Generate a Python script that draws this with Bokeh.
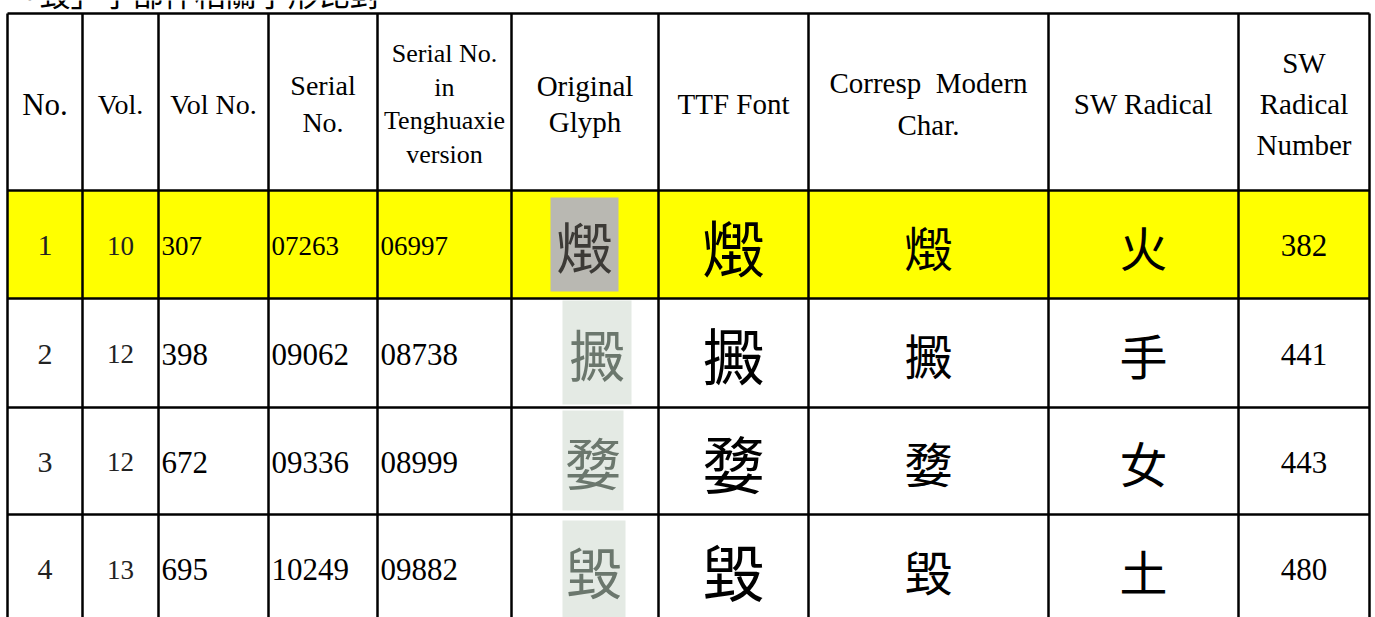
from bokeh.plotting import figure
from bokeh.embed import file_html
from bokeh.resources import INLINE
from bokeh.core.properties import value
from bokeh.models import ColumnDataSource, Range1d

# ---------------- data ----------------
title = "「毀」字部件相關字形比對"
headers = ["No.", "Vol.", "Vol No.", "Serial\nNo.", "Serial No.\nin\nTenghuaxie\nversion",
           "Original\nGlyph", "TTF Font", "Corresp \u00a0Modern\nChar.", "SW Radical",
           "SW\nRadical\nNumber"]
row_no = ["1", "2", "3", "4"]
vol = ["10", "12", "12", "13"]
vol_no = ["307", "398", "672", "695"]
serial_no = ["07263", "09062", "09336", "10249"]
teng_no = ["06997", "08738", "08999", "09882"]
modern_char = ["燬", "㩔", "㜈", "毀"]
sw_radical = ["火", "手", "女", "土"]
sw_radical_no = ["382", "441", "443", "480"]
highlight = [True, False, False, False]

# ---------------- layout (page pixel coordinates) ----------------
W, H = 1375, 617
col_x = [7, 82, 158, 268, 377, 511, 658, 808, 1048, 1238, 1369]
row_y = [13, 190, 298, 407, 514, 622]
img_boxes = [(550, 618, 197, 291), (562, 631, 300, 404), (562, 623, 410, 510), (562, 625, 520, 617)]
img_bg = ["#B9B8B2", "#E4EAE4", "#E4EAE4", "#E4EAE4"]
img_fg = ["#3C3A36", "#6B776D", "#6B776D", "#6B776D"]

p = figure(width=W, height=H, x_range=Range1d(0, W), y_range=Range1d(H, 0),
           output_backend="svg", toolbar_location=None, min_border=0)
p.axis.visible = False
p.grid.visible = False
p.outline_line_color = None
p.background_fill_color = "white"
p.border_fill_color = "white"

serif = value("Liberation Serif")
cjk = value("Noto Sans CJK TC")

# highlighted rows
hl_top = [row_y[i + 1] for i, h in enumerate(highlight) if h]
hl_bot = [row_y[i + 2] for i, h in enumerate(highlight) if h]
p.quad(left=col_x[0], right=col_x[-1], top=hl_top, bottom=hl_bot,
       fill_color="#FFFF00", line_color=None)

# original glyph placeholders (scanned image areas)
p.quad(left=[b[0] for b in img_boxes], right=[b[1] for b in img_boxes],
       top=[b[2] for b in img_boxes], bottom=[b[3] for b in img_boxes],
       fill_color=img_bg, line_color=None)

# title (cut off at top like the reference)
p.text(x=[8], y=[-8], text=[title], text_font=cjk, text_font_size="31px",
       text_baseline="alphabetic", text_align="left", text_color="black")

# headers
hx = [(col_x[i] + col_x[i + 1]) / 2 for i in range(len(headers))]
hy = (row_y[0] + row_y[1]) / 2 + 2
hsize = ["31px", "28px", "28px", "28px", "26px", "29px", "29px", "29px", "29px", "29px"]
hlh = [1.15, 1.15, 1.15, 1.18, 1.15, 1.1, 1.15, 1.3, 1.15, 1.28]
for i, h in enumerate(headers):
    p.text(x=[hx[i]], y=[hy], text=[h], text_font=serif, text_font_size=hsize[i],
           text_align="center", text_baseline="middle", text_line_height=hlh[i],
           text_color="black")

# body rows
ry = [(row_y[i + 1] + row_y[i + 2]) / 2 + 1 for i in range(len(row_no))]
cx = lambda c: (col_x[c] + col_x[c + 1]) / 2
num_size = ["27px" if h else "31px" for h in highlight]

src = ColumnDataSource(dict(y=ry, no=row_no, vol=vol, vno=vol_no, sno=serial_no, tno=teng_no,
                            mc=modern_char, rad=sw_radical, rno=sw_radical_no,
                            fs=num_size, fg=img_fg))
p.text(x=cx(0), y="y", text="no", source=src, text_font=serif, text_font_size="30px",
       text_align="center", text_baseline="middle", text_color="#222222")
p.text(x=cx(1), y="y", text="vol", source=src, text_font=serif, text_font_size="27px",
       text_align="center", text_baseline="middle", text_color="#222222")
for c, key in [(2, "vno"), (3, "sno"), (4, "tno")]:
    p.text(x=col_x[c] + 3, y="y", text=key, source=src, text_font=serif,
           text_font_size="fs", text_align="left", text_baseline="middle", text_color="black")
# original glyph (approximation of the scanned seal glyph)
p.text(x=[(b[0] + b[1]) / 2 for b in img_boxes], y=[(b[2] + b[3]) / 2 for b in img_boxes],
       text=modern_char, text_font=cjk, text_font_size="56px", text_align="center",
       text_baseline="middle", text_color=img_fg)
# TTF font glyph
p.text(x=cx(6), y="y", text="mc", source=src, text_font=cjk, text_font_size="62px",
       text_align="center", text_baseline="middle", text_color="black")
p.text(x=cx(7), y="y", text="mc", source=src, text_font=cjk, text_font_size="48px",
       text_align="center", text_baseline="middle", text_color="black")
p.text(x=cx(8), y="y", text="rad", source=src, text_font=cjk, text_font_size="48px",
       text_align="center", text_baseline="middle", text_color="black")
p.text(x=cx(9), y="y", text="rno", source=src, text_font=serif, text_font_size="31px",
       text_align="center", text_baseline="middle", text_color="black")

# grid lines
p.segment(x0=col_x, x1=col_x, y0=row_y[0], y1=row_y[-1], line_color="black", line_width=2.5)
p.segment(x0=col_x[0], x1=col_x[-1], y0=row_y, y1=row_y, line_color="black", line_width=2.5)

open("out.html", "w").write(file_html(p, INLINE))
